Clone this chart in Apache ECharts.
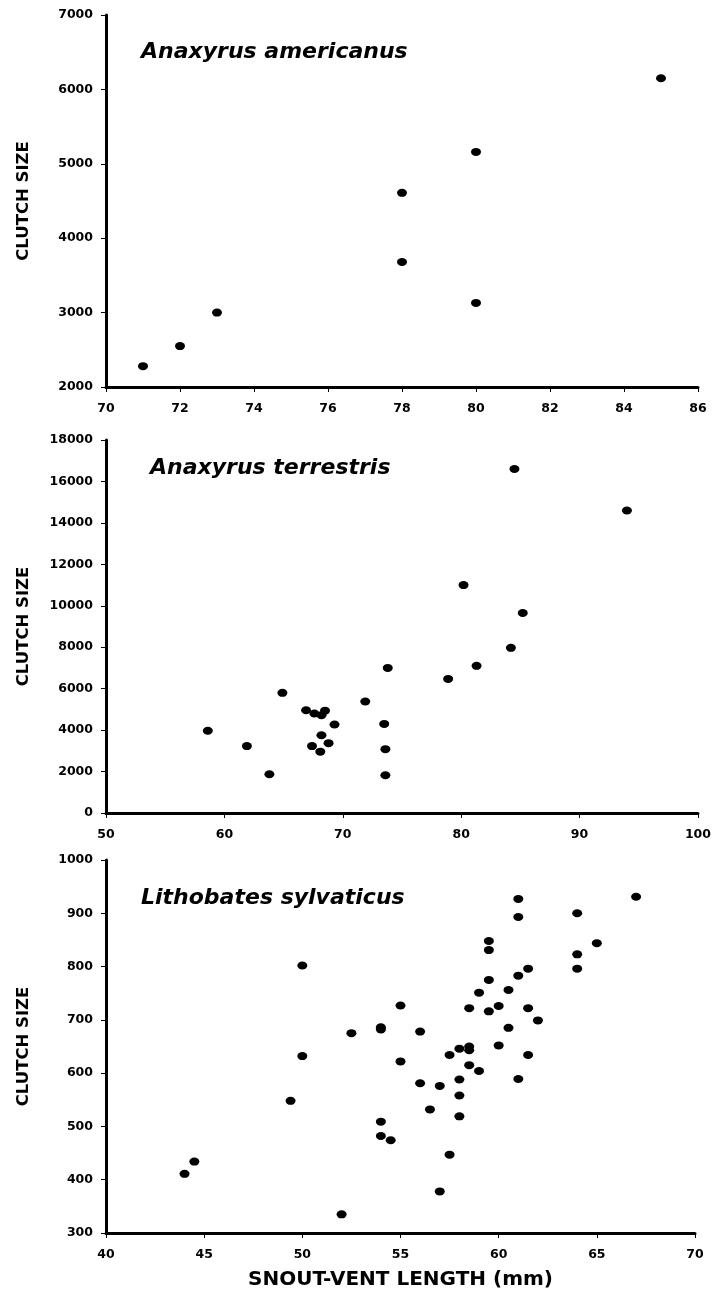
<!DOCTYPE html>
<html>
<head>
<meta charset="utf-8">
<title>Clutch size vs snout-vent length</title>
<script src="https://cdn.jsdelivr.net/npm/echarts@6/dist/echarts.min.js"></script>
<style>
  html, body { margin: 0; padding: 0; background: #fff; }
  #main { width: 714px; height: 1308px; }
</style>
</head>
<body>
<div id="main"></div>
<script>
// Anaxyrus americanus
const amerSvl = [71, 72, 73, 78, 78, 80, 80, 85];
const amerClutch = [2280, 2550, 3000, 3680, 4610, 5160, 3130, 6150];

// Anaxyrus terrestris
const terrSvl = [84.5, 94, 80.2, 85.2, 84.2, 81.3, 73.8, 78.9, 64.9, 71.9, 66.9, 67.6, 68.5,
  68.2, 69.3, 73.5, 58.6, 68.2, 61.9, 67.4, 68.8, 68.1, 73.6, 63.8, 73.6];
const terrClutch = [16600, 14600, 11000, 9650, 7970, 7100, 7000, 6470, 5800, 5380, 4960, 4800, 4940,
  4720, 4270, 4300, 3970, 3750, 3230, 3230, 3370, 2960, 3080, 1870, 1820];

// Lithobates sylvaticus
const sylvSvl = [61, 61, 67, 64, 65, 64, 64, 59.5, 59.5, 50, 61.5, 61, 59.5, 60.5, 59, 55, 58.5,
  60, 59.5, 61.5, 62, 52.5, 54, 54, 56, 60.5, 60, 58, 58.5, 58.5, 57.5, 61.5, 50, 55, 58.5, 59,
  56, 57, 58, 61, 58, 49.4, 56.5, 58, 54, 54, 54.5, 57.5, 57, 52, 44.5, 44];
const sylvClutch = [927, 893, 931, 900, 844, 823, 796, 848, 831, 802, 796, 783, 775, 756, 751, 727, 722,
  726, 716, 722, 699, 675, 686, 682, 678, 685, 652, 646, 650, 643, 634, 634, 632, 622, 615, 604,
  581, 576, 588, 589, 558, 548, 532, 519, 509, 482, 474, 447, 378, 335, 434, 411];

// panel axis ranges: [min, max, interval]
const xRanges = [[70, 86, 2], [50, 100, 10], [40, 70, 5]];
const yRanges = [[2000, 7000, 1000], [0, 18000, 2000], [300, 1000, 100]];
const speciesNames = ['Anaxyrus americanus', 'Anaxyrus terrestris', 'Lithobates sylvaticus'];

const FONT = "'DejaVu Sans', 'Liberation Sans', Arial, sans-serif";

function pairs(xs, ys) {
  return xs.map((x, i) => [x, ys[i]]);
}

const grids = [
  { left: 106, top: 15, width: 592, height: 372 },
  { left: 106, top: 440, width: 593, height: 373 },
  { left: 106, top: 860, width: 589, height: 373 }
];

const lineStyle = { color: '#000', width: 3 };
const tickStyle = { color: '#000', width: 1 };
const labelStyle = {
  color: '#000', fontFamily: FONT, fontWeight: 'bold', fontSize: 12.5,
  formatter: v => String(v)   // no thousands separator
};

const xAxis = xRanges.map((r, i) => ({
  type: 'value',
  gridIndex: i,
  min: r[0],
  max: r[1],
  interval: r[2],
  splitLine: { show: false },
  axisLine: { show: true, onZero: false, lineStyle: lineStyle },
  axisTick: { show: true, inside: false, length: 5, lineStyle: tickStyle },
  axisLabel: Object.assign({ margin: 15 }, labelStyle),
  name: i === 2 ? 'SNOUT-VENT LENGTH (mm)' : '',
  nameLocation: 'middle',
  nameGap: 37,
  nameTextStyle: { color: '#000', fontFamily: FONT, fontWeight: 'bold', fontSize: 20 }
}));

const yAxis = yRanges.map((r, i) => ({
  type: 'value',
  gridIndex: i,
  min: r[0],
  max: r[1],
  interval: r[2],
  splitLine: { show: false },
  axisLine: { show: true, onZero: false, lineStyle: lineStyle },
  axisTick: { show: true, inside: false, length: 5, lineStyle: tickStyle },
  axisLabel: Object.assign({ margin: 13 }, labelStyle),
  name: 'CLUTCH SIZE',
  nameLocation: 'middle',
  nameRotate: 90,
  nameGap: 74,
  nameTextStyle: { color: '#000', fontFamily: FONT, fontWeight: 'bold', fontSize: 16.5 }
}));

const titleTops = [41, 457, 887];
const titleLefts = [141, 150, 141];

const chart = echarts.init(document.getElementById('main'));
chart.setOption({
  backgroundColor: '#fff',
  animation: false,
  title: speciesNames.map((name, i) => ({
    text: name,
    left: titleLefts[i],
    top: titleTops[i],
    padding: 0,
    textStyle: { color: '#000', fontFamily: FONT, fontWeight: 'bold', fontStyle: 'italic', fontSize: 22 }
  })),
  grid: grids,
  xAxis: xAxis,
  yAxis: yAxis,
  series: [
    pairs(amerSvl, amerClutch),
    pairs(terrSvl, terrClutch),
    pairs(sylvSvl, sylvClutch)
  ].map((d, i) => ({
    type: 'scatter',
    xAxisIndex: i,
    yAxisIndex: i,
    symbol: 'circle',
    symbolSize: [10, 8],
    itemStyle: { color: '#000', opacity: 1 },
    data: d
  }))
});
</script>
</body>
</html>
